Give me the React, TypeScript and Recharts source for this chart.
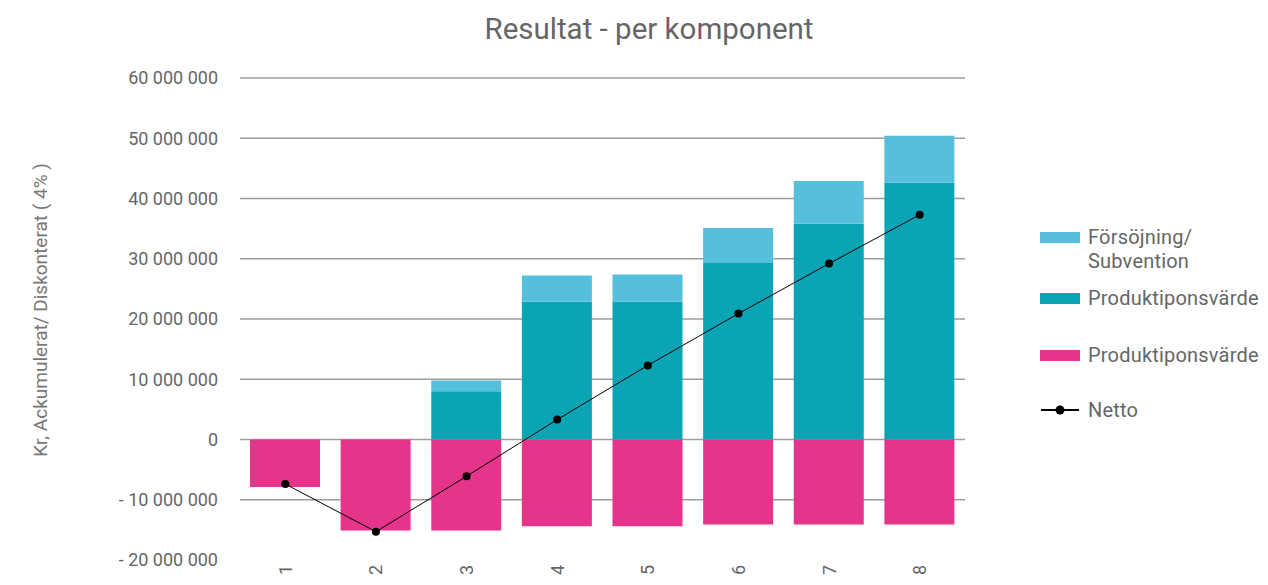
import React from "react";
import { ComposedChart, Bar, Line, XAxis, YAxis, CartesianGrid, Legend } from "recharts";

const years = ["1", "2", "3", "4", "5", "6", "7", "8"];
const forsorjning = [0, 0, 1800000, 4300000, 4500000, 5800000, 7100000, 7800000];
const produktionPositiv = [0, 0, 8000000, 22900000, 22900000, 29300000, 35800000, 42600000];
const produktionNegativ = [-7900000, -15100000, -15100000, -14400000, -14400000, -14100000, -14100000, -14100000];
const netto = [-7400000, -15300000, -6100000, 3300000, 12300000, 20900000, 29200000, 37300000];
const yTicks = [-20000000, -10000000, 0, 10000000, 20000000, 30000000, 40000000, 50000000, 60000000];

const data = years.map((year, i) => ({
  year,
  neg: produktionNegativ[i],
  pos: produktionPositiv[i],
  sub: forsorjning[i],
  netto: netto[i],
}));

const COLORS = { sub: "#56bfdc", pos: "#0aa4b4", neg: "#e5358b", line: "#000" };
const font = "Roboto, 'Noto Sans', sans-serif";

const formatKr = (v: number) => {
  const s = Math.abs(v).toString().replace(/\B(?=(\d{3})+(?!\d))/g, " ");
  return v < 0 ? `- ${s}` : s;
};

const legendItems = [
  { label: ["Försöjning/", "Subvention"], color: COLORS.sub, type: "rect", gap: 13 },
  { label: ["Produktiponsvärde"], color: COLORS.pos, type: "rect", gap: 33 },
  { label: ["Produktiponsvärde"], color: COLORS.neg, type: "rect", gap: 31 },
  { label: ["Netto"], color: COLORS.line, type: "line", gap: 0 },
];

function LegendBox() {
  return (
    <div style={{ fontFamily: font, fontSize: 20, color: "#666", letterSpacing: 0.2 }}>
      {legendItems.map((item, i) => (
        <div key={i} style={{ display: "flex", alignItems: "flex-start", marginBottom: item.gap }}>
          <div style={{ width: 42, height: 24, display: "flex", alignItems: "center", marginRight: 6 }}>
            {item.type === "rect" ? (
              <div style={{ width: 40, height: 11, background: item.color }} />
            ) : (
              <svg width={40} height={12}>
                <line x1={1} y1={6} x2={39} y2={6} stroke="#000" strokeWidth={2} />
                <circle cx={20} cy={6} r={4.5} fill="#000" />
              </svg>
            )}
          </div>
          <div style={{ lineHeight: "24px" }}>
            {item.label.map((l) => (
              <div key={l}>{l}</div>
            ))}
          </div>
        </div>
      ))}
    </div>
  );
}

const XTick = (props: any) => {
  const { x, y, payload } = props;
  return (
    <text
      x={x}
      y={y}
      transform={`rotate(-90 ${x} ${y})`}
      textAnchor="middle"
      dominantBaseline="central"
      fill="#666"
      fontSize={18}
      fontFamily={font}
    >
      {payload.value}
    </text>
  );
};

const YLabel = () => (
  <text
    x={40}
    y={310}
    transform="rotate(-90 40 310)"
    textAnchor="middle"
    dominantBaseline="central"
    fill="#777"
    fontSize={19}
    fontFamily={font}
  >
    Kr, Ackumulerat/ Diskonterat ( 4% )
  </text>
);

export default function App() {
  return (
    <div style={{ position: "absolute", left: 0, top: 0, width: 1268, height: 585, background: "#fff" }}>
      <div
        style={{
          position: "absolute",
          top: 12,
          left: 0,
          width: 1298,
          textAlign: "center",
          fontFamily: font,
          fontSize: 29.5,
          color: "#666",
        }}
      >
        Resultat - per komponent
      </div>
      <ComposedChart
        width={1268}
        height={585}
        data={data}
        stackOffset="sign"
        margin={{ top: 78, right: 75, bottom: 0, left: 0 }}
      >
        <CartesianGrid
          vertical={false}
          stroke="#9e9e9e"
          strokeWidth={1.5}
          horizontalCoordinatesGenerator={({ offset }: any) =>
            [0, 1, 2, 3, 4, 5, 6, 7].map((i) => offset.top + (i * offset.height) / 8)
          }
        />
        <XAxis dataKey="year" height={25} tickLine={false} axisLine={false} tick={<XTick />} tickSize={0} tickMargin={10} interval={0} />
        <YAxis
          width={240}
          domain={[-20000000, 60000000]}
          ticks={yTicks}
          tickFormatter={formatKr}
          tickLine={false}
          axisLine={false}
          tickSize={0}
          tickMargin={22}
          tick={{ fill: "#666", fontSize: 18, fontFamily: font }}
          label={{ content: () => <YLabel /> }}
        />
        <Legend
          layout="vertical"
          align="right"
          verticalAlign="top"
          wrapperStyle={{ top: 225, left: 1040, width: 228 }}
          content={() => <LegendBox />}
        />
        <Bar dataKey="neg" name="Produktiponsvärde" stackId="a" fill={COLORS.neg} barSize={70} isAnimationActive={false} />
        <Bar dataKey="pos" name="Produktiponsvärde" stackId="a" fill={COLORS.pos} barSize={70} isAnimationActive={false} />
        <Bar dataKey="sub" name="Försöjning/ Subvention" stackId="a" fill={COLORS.sub} barSize={70} isAnimationActive={false} />
        <Line
          dataKey="netto"
          name="Netto"
          stroke={COLORS.line}
          strokeWidth={1}
          dot={{ r: 4, fill: "#000", stroke: "#000", strokeWidth: 0 }}
          isAnimationActive={false}
        />
      </ComposedChart>
    </div>
  );
}
